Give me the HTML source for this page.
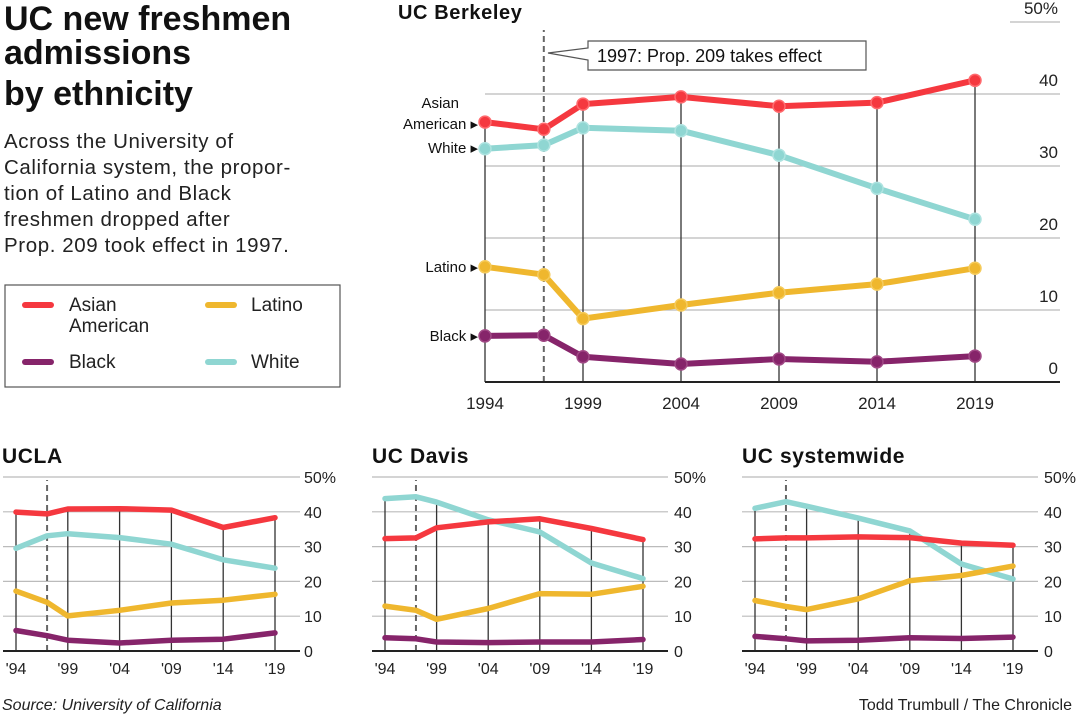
<!DOCTYPE html>
<html><head><meta charset="utf-8">
<style>
html,body{margin:0;padding:0;background:#fff;}
svg{display:block;font-family:"Liberation Sans",sans-serif;}
</style></head>
<body>
<svg id="chart" width="1080" height="715" viewBox="0 0 1080 715" xmlns="http://www.w3.org/2000/svg">
<g font-weight="bold" font-size="34" fill="#111">
<text x="4" y="30">UC new freshmen</text>
<text x="4" y="64">admissions</text>
<text x="4" y="105">by ethnicity</text>
</g>
<g font-size="20.5" fill="#222" letter-spacing="0.6">
<text x="4" y="148">Across the University of</text>
<text x="4" y="174">California system, the propor-</text>
<text x="4" y="200">tion of Latino and Black</text>
<text x="4" y="226">freshmen dropped after</text>
<text x="4" y="252">Prop. 209 took effect in 1997.</text>
</g>
<g>
<rect x="5" y="285" width="335" height="102" fill="none" stroke="#555" stroke-width="1.2"/>
<g><line x1="25" y1="305" x2="51" y2="305" stroke="#f5383f" stroke-width="6" stroke-linecap="round"/><text x="69" y="311" font-size="19" fill="#222">Asian</text><text x="69" y="332" font-size="19" fill="#222">American</text></g>
<g><line x1="208" y1="305" x2="234" y2="305" stroke="#efb72e" stroke-width="6" stroke-linecap="round"/><text x="251" y="311" font-size="19" fill="#222">Latino</text></g>
<g><line x1="25" y1="362" x2="51" y2="362" stroke="#86246a" stroke-width="6" stroke-linecap="round"/><text x="69" y="368" font-size="19" fill="#222">Black</text></g>
<g><line x1="208" y1="362" x2="234" y2="362" stroke="#8fd6d2" stroke-width="6" stroke-linecap="round"/><text x="251" y="368" font-size="19" fill="#222">White</text></g>
</g>
<text x="2" y="710" font-size="16" font-style="italic" fill="#222">Source: University of California</text>
<text x="1072" y="710" font-size="16" fill="#222" text-anchor="end">Todd Trumbull / The Chronicle</text>
<g id="panels"></g>
</svg>
<script>
const years = [1994, 1997, 1999, 2004, 2009, 2014, 2019];
const tickYears = [1994, 1999, 2004, 2009, 2014, 2019];
const yTicks = [0, 10, 20, 30, 40, 50];
const seriesNames = ["white", "latino", "black", "asian"];
const berkeleyAsian = [36.1, 35.1, 38.6, 39.6, 38.3, 38.8, 41.9];
const berkeleyWhite = [32.4, 32.9, 35.3, 34.9, 31.5, 26.9, 22.6];
const berkeleyLatino = [16.0, 14.9, 8.8, 10.7, 12.4, 13.6, 15.8];
const berkeleyBlack = [6.4, 6.5, 3.5, 2.5, 3.2, 2.8, 3.6];
const uclaAsian = [39.9, 39.4, 40.8, 40.9, 40.5, 35.5, 38.3];
const uclaWhite = [29.5, 33.1, 33.7, 32.6, 30.7, 26.2, 23.8];
const uclaLatino = [17.2, 14.0, 10.1, 11.7, 13.8, 14.6, 16.3];
const uclaBlack = [5.9, 4.4, 3.1, 2.3, 3.1, 3.4, 5.2];
const davisAsian = [32.3, 32.5, 35.4, 37.1, 38.0, 35.2, 32.0];
const davisWhite = [43.8, 44.3, 42.8, 37.7, 34.2, 25.3, 20.8];
const davisLatino = [12.9, 11.7, 9.1, 12.2, 16.5, 16.3, 18.6];
const davisBlack = [3.8, 3.5, 2.6, 2.4, 2.6, 2.6, 3.3];
const systemAsian = [32.2, 32.5, 32.5, 32.8, 32.6, 31.0, 30.4];
const systemWhite = [41.0, 42.9, 41.6, 38.2, 34.5, 25.0, 20.7];
const systemLatino = [14.5, 12.8, 11.9, 15.0, 20.2, 21.7, 24.4];
const systemBlack = [4.2, 3.5, 2.9, 3.1, 3.8, 3.6, 4.0];

const COLORS = {asian:"#f5383f", white:"#8fd6d2", latino:"#efb72e", black:"#86246a"};
const DOT = {asian:"#ff6a6e", white:"#aee3e0", latino:"#f5cb5c", black:"#a04885"};
const NS = "http://www.w3.org/2000/svg";
const root = document.getElementById("panels");
function mk(tag, attrs, parent){const e=document.createElementNS(NS,tag);for(const k in attrs)e.setAttribute(k,attrs[k]);(parent||root).appendChild(e);return e;}

function panel(cfg){
  const g = mk("g",{});
  
  
  const xs = y => cfg.x0 + (y-1994)/(2019-1994)*(cfg.x1-cfg.x0);
  const ys = v => cfg.y0 - v/50*(cfg.y0-cfg.y50);
  const t = mk("text",{x:cfg.titleX,y:cfg.titleY,"font-size":cfg.titleSize,"font-weight":"bold",fill:"#111","letter-spacing":"0.6"},g);
  t.textContent = cfg.title;
  
  
  yTicks.forEach(v=>{
    if(v>0){
      const gl = mk("line",{x1:(v===50&&cfg.big)?cfg.gridR-50:cfg.gridL,x2:cfg.gridR,y1:ys(v),y2:ys(v),stroke:"#bbb","stroke-width":1.2},g);
      
      
    }
    const lb = mk("text",{x:cfg.labelX,y:ys(v)-(cfg.big?8:-6),"font-size":cfg.tickSize,fill:"#222","text-anchor":cfg.big?"end":"start"},g);
    lb.textContent = v===50 ? "50%" : String(v);
    
    
  });
  const series = {asian:cfg.asian, white:cfg.white, latino:cfg.latino, black:cfg.black};
  tickYears.forEach(yr=>{
    const i = years.indexOf(yr);
    let mx = 0; for(const k in series) mx = Math.max(mx, series[k][i]);
    const vl = mk("line",{x1:xs(yr),x2:xs(yr),y1:cfg.y0,y2:ys(mx),stroke:"#333","stroke-width":1.3},g);
    
    
    const xl = mk("text",{x:xs(yr),y:cfg.y0+(cfg.big?27:23),"font-size":cfg.tickSize,fill:"#222","text-anchor":"middle"},g);
    xl.textContent = cfg.big ? String(yr) : "'" + String(yr).slice(2);
    
    
  });
  const dl = mk("line",{x1:xs(1997),x2:xs(1997),y1:cfg.y0,y2:cfg.dashTop,stroke:"#666","stroke-width":2,"stroke-dasharray":"6,4"},g);
  
  
  const bl = mk("line",{x1:cfg.gridL,x2:cfg.gridR,y1:cfg.y0,y2:cfg.y0,stroke:"#222","stroke-width":2},g);
  
  
  seriesNames.forEach(k=>{
    const d = series[k].map((v,i)=>(i?"L":"M")+xs(years[i]).toFixed(1)+","+ys(v).toFixed(1)).join(" ");
    const p = mk("path",{d:d,fill:"none",stroke:COLORS[k],"stroke-width":cfg.big?6:5.5,"stroke-linejoin":"round","stroke-linecap":"round"},g);
    
    
    if(cfg.big){
      series[k].forEach((v,i)=>{
        const c = mk("circle",{cx:xs(years[i]),cy:ys(v),r:6,fill:COLORS[k],stroke:DOT[k],"stroke-width":1.5},g);
        
        
      });
    }
  });
  return {g, xs, ys};
}

const b = panel({name:"berkeley-chart",title:"UC Berkeley",titleX:398,titleY:19,titleSize:20,big:true,
  x0:485,x1:975,y0:382,y50:22,gridL:485,gridR:1060,labelX:1058,tickSize:17,dashTop:30,
  asian:berkeleyAsian,white:berkeleyWhite,latino:berkeleyLatino,black:berkeleyBlack});
const ann = mk("g",{},b.g);


mk("path",{d:"M588,41 H866 V70 H588 V60 L548,53 L588,48 Z",fill:"#fff",stroke:"#555","stroke-width":1.2},ann);
const at = mk("text",{x:597,y:62,"font-size":18,fill:"#111"},ann);
at.textContent = "1997: Prop. 209 takes effect";
const lbls = [["Asian",null,108],["American ▸","asian",129],["White ▸","white",153],["Latino ▸","latino",272],["Black ▸","black",341]];
lbls.forEach(l=>{
  const tx = mk("text",{x:l[1]?478:459,y:l[2],"font-size":15,fill:"#111","text-anchor":"end"},b.g);
  tx.textContent = l[0];
  
  
});

panel({name:"ucla-chart",title:"UCLA",titleX:2,titleY:463,titleSize:21,big:false,
  x0:16,x1:275,y0:651,y50:477,gridL:3,gridR:300,labelX:304,tickSize:16,dashTop:480,
  asian:uclaAsian,white:uclaWhite,latino:uclaLatino,black:uclaBlack});
panel({name:"davis-chart",title:"UC Davis",titleX:372,titleY:463,titleSize:21,big:false,
  x0:385,x1:643,y0:651,y50:477,gridL:372,gridR:668,labelX:674,tickSize:16,dashTop:480,
  asian:davisAsian,white:davisWhite,latino:davisLatino,black:davisBlack});
panel({name:"systemwide-chart",title:"UC systemwide",titleX:742,titleY:463,titleSize:21,big:false,
  x0:755,x1:1013,y0:651,y50:477,gridL:742,gridR:1038,labelX:1044,tickSize:16,dashTop:480,
  asian:systemAsian,white:systemWhite,latino:systemLatino,black:systemBlack});
</script>
</body></html>
